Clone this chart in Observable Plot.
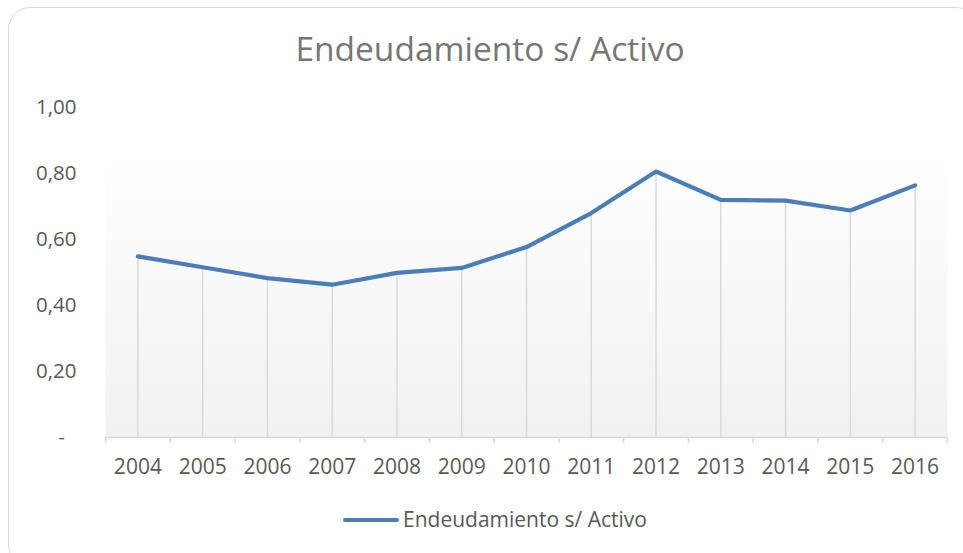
<!DOCTYPE html>
<html>
<head>
<meta charset="utf-8">
<script src="https://cdn.jsdelivr.net/npm/d3@7"></script>
<script src="https://cdn.jsdelivr.net/npm/@observablehq/plot@0.6"></script>
<style>
  html, body { margin: 0; padding: 0; background: #fff; }
  #wrap { position: relative; width: 963px; height: 553px; overflow: hidden; font-family: "Open Sans", sans-serif; }
  #border { position: absolute; left: 8px; top: 7px; width: 970px; height: 560px; border: 1.5px solid #d9d9d9; border-radius: 22px; box-sizing: border-box; }
  #title { position: absolute; left: 0; width: 980px; top: 27px; text-align: center; font-size: 33.5px; color: #767676; white-space: nowrap; line-height: 1.3; }
  #chart { position: absolute; left: 0; top: 0; }
  #legend { position: absolute; top: 506px; left: 343px; display: flex; align-items: center; font-size: 21px; color: #595959; white-space: nowrap; line-height: 1.3; }
  #legend .sw { width: 56px; height: 4px; background: #4a7ebb; border-radius: 2px; margin-right: 4px; }
</style>
</head>
<body>
<div id="wrap">
  <div id="border"></div>
  <div id="chart"></div>
  <div id="title">Endeudamiento s/ Activo</div>
  <div id="legend"><span class="sw"></span><span>Endeudamiento s/ Activo</span></div>
</div>
<script>
const years = ["2004","2005","2006","2007","2008","2009","2010","2011","2012","2013","2014","2015","2016"];
const values = [0.549, 0.516, 0.483, 0.463, 0.499, 0.514, 0.577, 0.680, 0.806, 0.720, 0.718, 0.688, 0.764];
const yTicks = [0, 0.2, 0.4, 0.6, 0.8, 1.0];
const seriesName = "Endeudamiento s/ Activo";

const data = years.map((y, i) => ({year: y, value: values[i]}));

const W = 963, H = 553;
const mL = 105, mR = 16, mT = 107, mB = 116;
const step = (W - mL - mR) / years.length;

const fmt = v => v === 0 ? "-\u2007" : d3.format(".2f")(v).replace(".", ",");

const plot = Plot.plot({
  width: W,
  height: H,
  marginLeft: mL,
  marginRight: mR,
  marginTop: mT,
  marginBottom: mB,
  style: {fontFamily: "Open Sans, sans-serif", background: "transparent", overflow: "visible"},
  x: {type: "band", domain: years, padding: 0, round: false, label: null},
  y: {domain: [0, 1], label: null},
  marks: [
    Plot.frame({fill: "url(#bggrad)", stroke: "none"}),
    Plot.ruleX(data, {x: "year", y1: 0, y2: "value", stroke: "#d9d9d9", strokeWidth: 1.5}),
    Plot.ruleY([0], {stroke: "#d9d9d9", strokeWidth: 1.5}),
    Plot.axisX(years, {tickSize: 6, dx: -step / 2, text: null, stroke: "#d9d9d9", strokeWidth: 1.5}),
    Plot.axisX([years[years.length - 1]], {tickSize: 6, dx: step / 2, text: null, stroke: "#d9d9d9", strokeWidth: 1.5}),
    Plot.axisX(years, {tickSize: 0, tickPadding: 22, fontSize: 21, fill: "#595959", label: null}),
    Plot.axisY(yTicks, {tickSize: 0, tickPadding: 29, fontSize: 20.5, fill: "#595959", tickFormat: fmt, label: null}),
    Plot.line(data, {x: "year", y: "value", stroke: "#4a7ebb", strokeWidth: 4.2, strokeLinejoin: "round", strokeLinecap: "round"})
  ]
});

const svgNS = "http://www.w3.org/2000/svg";
const defs = document.createElementNS(svgNS, "defs");
defs.innerHTML = '<linearGradient id="bggrad" x1="0" y1="0" x2="0" y2="1">' +
  '<stop offset="0.13" stop-color="#ffffff"/>' +
  '<stop offset="1" stop-color="#f1f1f1"/></linearGradient>';
plot.insertBefore(defs, plot.firstChild);
document.getElementById("chart").appendChild(plot);
</script>
</body>
</html>
